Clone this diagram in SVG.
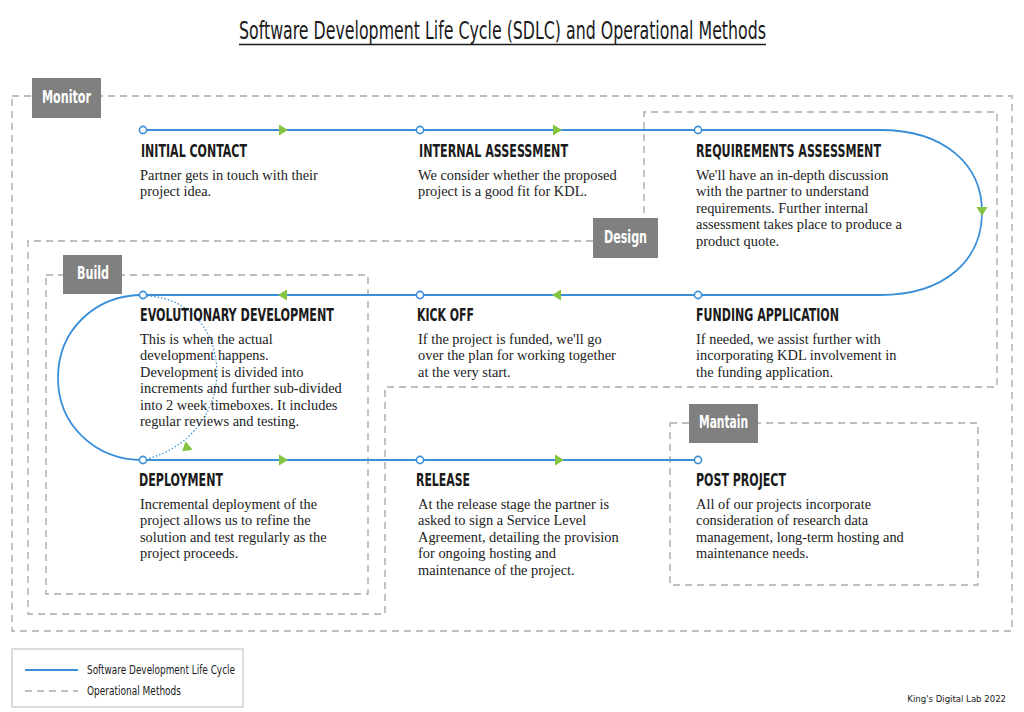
<svg xmlns="http://www.w3.org/2000/svg" width="1024" height="712" viewBox="0 0 1024 712">
<style>
.dash{fill:none;stroke:#ababab;stroke-width:1.4;stroke-dasharray:7 5}
.lbl{fill:#808080}
.lt{font-family:"Liberation Sans Narrow","DejaVu Sans Condensed","Liberation Sans",sans-serif;font-weight:bold;font-size:17px;fill:#fff}
.h{font-family:"Liberation Sans Narrow","DejaVu Sans Condensed","Liberation Sans",sans-serif;font-weight:bold;font-size:17px;fill:#1a1a1a}
.b{font-family:"Liberation Serif","Times New Roman",serif;font-size:14.4px;fill:#222}
.cond{font-family:"Liberation Sans Narrow","DejaVu Sans Condensed","Liberation Sans",sans-serif;fill:#1a1a1a}
.sdlc{fill:none;stroke:#3b8fd8;stroke-width:1.8}
.node{fill:#fff;stroke:#3b8fd8;stroke-width:1.6}
.arr{fill:#85c441}
</style>
<defs>
<path id="ah" d="M-4,-5.5 L5,0 L-4,5.5 Z"/>
</defs>
<rect width="1024" height="712" fill="#fff"/>

<g id="title">
<text class="cond" x="239" y="39" font-size="24" textLength="527" lengthAdjust="spacingAndGlyphs">Software Development Life Cycle (SDLC) and Operational Methods</text>
<line x1="239" y1="44.5" x2="766" y2="44.5" stroke="#1a1a1a" stroke-width="1.6"/>
</g>

<g id="operational-methods">
<g id="monitor">
<rect class="dash" x="12" y="96" width="1000" height="535"/>
<rect class="lbl" x="32" y="78" width="69" height="40"/>
<text class="lt" x="42" y="103" textLength="49" lengthAdjust="spacingAndGlyphs">Monitor</text>
</g>
<g id="design">
<path class="dash" d="M593,241 H28 V614 H385 V387 H997 V112 H644 V218"/>
<rect class="lbl" x="593" y="218" width="65" height="40"/>
<text class="lt" x="604" y="243" textLength="43" lengthAdjust="spacingAndGlyphs">Design</text>
</g>
<g id="build">
<rect class="dash" x="46" y="275" width="322" height="319"/>
<rect class="lbl" x="63" y="255" width="59" height="39"/>
<text class="lt" x="77" y="279" textLength="32" lengthAdjust="spacingAndGlyphs">Build</text>
</g>
<g id="mantain">
<rect class="dash" x="670" y="423" width="308" height="162"/>
<rect class="lbl" x="689" y="404" width="69" height="39"/>
<text class="lt" x="699" y="428" textLength="49" lengthAdjust="spacingAndGlyphs">Mantain</text>
</g>
</g>

<g id="connectors">
<path class="sdlc" d="M143,130 H880 C945,130 982,165 982,212 C982,260 945,295 880,295 H143 C95,295 58,330 58,378 C58,425 95,460 143,460 H698"/>
<path d="M147,296 C235,300 245,432 147,459" fill="none" stroke="#3b8fd8" stroke-width="1.2" stroke-dasharray="1.5 2"/>
<use href="#ah" class="arr" transform="translate(283,130)"/>
<use href="#ah" class="arr" transform="translate(557,130)"/>
<use href="#ah" class="arr" transform="translate(982,211) rotate(90)"/>
<use href="#ah" class="arr" transform="translate(557,295) rotate(180)"/>
<use href="#ah" class="arr" transform="translate(283,295) rotate(180)"/>
<use href="#ah" class="arr" transform="translate(186,448) rotate(140)"/>
<use href="#ah" class="arr" transform="translate(283,460)"/>
<use href="#ah" class="arr" transform="translate(559,460)"/>
</g>

<g id="initial-contact">
<circle class="node" cx="143" cy="130" r="3.6"/>
<text class="h" x="141" y="157" textLength="106" lengthAdjust="spacingAndGlyphs">INITIAL CONTACT</text>
<text class="b" x="140" y="179.5">Partner gets in touch with their<tspan x="140" dy="16.5">project idea.</tspan></text>
</g>
<g id="internal-assessment">
<circle class="node" cx="420" cy="130" r="3.6"/>
<text class="h" x="419" y="157" textLength="149" lengthAdjust="spacingAndGlyphs">INTERNAL ASSESSMENT</text>
<text class="b" x="418" y="179.5">We consider whether the proposed<tspan x="418" dy="16.5">project is a good fit for KDL.</tspan></text>
</g>
<g id="requirements-assessment">
<circle class="node" cx="698" cy="130" r="3.6"/>
<text class="h" x="696" y="157" textLength="185" lengthAdjust="spacingAndGlyphs">REQUIREMENTS ASSESSMENT</text>
<text class="b" x="696" y="179.5">We'll have an in-depth discussion<tspan x="696" dy="16.5">with the partner to understand</tspan><tspan x="696" dy="16.5">requirements. Further internal</tspan><tspan x="696" dy="16.5">assessment takes place to produce a</tspan><tspan x="696" dy="16.5">product quote.</tspan></text>
</g>
<g id="funding-application">
<circle class="node" cx="698" cy="295" r="3.6"/>
<text class="h" x="696" y="321" textLength="143" lengthAdjust="spacingAndGlyphs">FUNDING APPLICATION</text>
<text class="b" x="696" y="343.5">If needed, we assist further with<tspan x="696" dy="16.5">incorporating KDL involvement in</tspan><tspan x="696" dy="16.5">the funding application.</tspan></text>
</g>
<g id="kick-off">
<circle class="node" cx="420" cy="295" r="3.6"/>
<text class="h" x="417" y="321" textLength="57" lengthAdjust="spacingAndGlyphs">KICK OFF</text>
<text class="b" x="418" y="343.5">If the project is funded, we'll go<tspan x="418" dy="16.5">over the plan for working together</tspan><tspan x="418" dy="16.5">at the very start.</tspan></text>
</g>
<g id="evolutionary-development">
<circle class="node" cx="143" cy="295" r="3.6"/>
<text class="h" x="140" y="321" textLength="194" lengthAdjust="spacingAndGlyphs">EVOLUTIONARY DEVELOPMENT</text>
<text class="b" x="140" y="343.5">This is when the actual<tspan x="140" dy="16.5">development happens.</tspan><tspan x="140" dy="16.5">Development is divided into</tspan><tspan x="140" dy="16.5">increments and further sub-divided</tspan><tspan x="140" dy="16.5">into 2 week timeboxes. It includes</tspan><tspan x="140" dy="16.5">regular reviews and testing.</tspan></text>
</g>
<g id="deployment">
<circle class="node" cx="143" cy="460" r="3.6"/>
<text class="h" x="139" y="486" textLength="84" lengthAdjust="spacingAndGlyphs">DEPLOYMENT</text>
<text class="b" x="140" y="508.5">Incremental deployment of the<tspan x="140" dy="16.5">project allows us to refine the</tspan><tspan x="140" dy="16.5">solution and test regularly as the</tspan><tspan x="140" dy="16.5">project proceeds.</tspan></text>
</g>
<g id="release">
<circle class="node" cx="420" cy="460" r="3.6"/>
<text class="h" x="416" y="486" textLength="54" lengthAdjust="spacingAndGlyphs">RELEASE</text>
<text class="b" x="418" y="508.5">At the release stage the partner is<tspan x="418" dy="16.5">asked to sign a Service Level</tspan><tspan x="418" dy="16.5">Agreement, detailing the provision</tspan><tspan x="418" dy="16.5">for ongoing hosting and</tspan><tspan x="418" dy="16.5">maintenance of the project.</tspan></text>
</g>
<g id="post-project">
<circle class="node" cx="698" cy="460" r="3.6"/>
<text class="h" x="696" y="486" textLength="90" lengthAdjust="spacingAndGlyphs">POST PROJECT</text>
<text class="b" x="696" y="508.5">All of our projects incorporate<tspan x="696" dy="16.5">consideration of research data</tspan><tspan x="696" dy="16.5">management, long-term hosting and</tspan><tspan x="696" dy="16.5">maintenance needs.</tspan></text>
</g>

<g id="legend">
<rect x="12" y="649" width="231" height="58" fill="#fff" stroke="#c4c4c4" stroke-width="1.2"/>
<line x1="25" y1="670" x2="78" y2="670" stroke="#3b8fd8" stroke-width="1.8"/>
<line x1="25" y1="691" x2="78" y2="691" class="dash"/>
<text class="cond" x="87" y="674" font-size="13" textLength="148" lengthAdjust="spacingAndGlyphs">Software Development Life Cycle</text>
<text class="cond" x="87" y="695" font-size="13" textLength="94" lengthAdjust="spacingAndGlyphs">Operational Methods</text>
</g>
<text class="cond" x="1006" y="702" font-size="9.5" text-anchor="end">King's Digital Lab 2022</text>
</svg>
